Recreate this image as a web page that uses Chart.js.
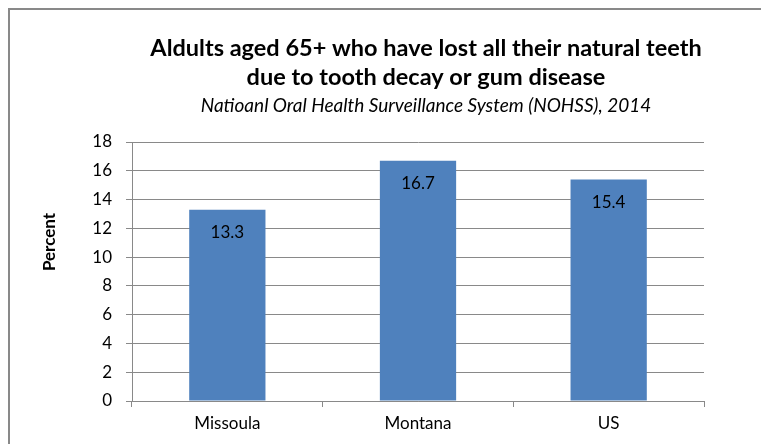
<!DOCTYPE html>
<html>
<head>
<meta charset="utf-8">
<script src="https://cdn.jsdelivr.net/npm/chart.js@4"></script>
<style>
  html, body { margin: 0; padding: 0; background: #fff; overflow: hidden; }
  #wrap { width: 761px; height: 444px; }
  canvas { display: block; }
</style>
</head>
<body>
<div id="wrap"><canvas id="teethChart" width="761" height="444"></canvas></div>
<script>
const lugares = ["Missoula", "Montana", "US"];
const percentData = [13.3, 16.7, 15.4];
const tituloLinhas = [
  "Aldults aged 65+ who have lost all their natural teeth",
  "due to tooth decay or gum disease"
];
const subtitulo = "Natioanl Oral Health Surveillance System (NOHSS), 2014";
const eixoY = "Percent";

const fonte = "Lato, 'Open Sans', sans-serif";
const cinza = "#898989";

// moldura (so topo e esquerda aparecem), titulos e rotulo do eixo Y
const extras = {
  id: "extras",
  beforeDraw(chart) {
    const c = chart.ctx;
    c.save();
    c.fillStyle = "#fff";
    c.fillRect(0, 0, chart.width, chart.height);
    c.strokeStyle = cinza;
    c.lineWidth = 2;
    c.beginPath();
    c.moveTo(9, chart.height);
    c.lineTo(9, 9);
    c.lineTo(chart.width, 9);
    c.stroke();
    c.restore();
  },
  afterDraw(chart) {
    const c = chart.ctx;
    c.save();
    c.fillStyle = "#000";
    c.textAlign = "center";
    c.textBaseline = "alphabetic";
    c.font = "bold 23.5px " + fonte;
    c.fillText(tituloLinhas[0], 426, 56);
    c.fillText(tituloLinhas[1], 426, 85);
    c.font = "italic 19px " + fonte;
    c.fillText(subtitulo, 426, 112);

    c.translate(50, 242);
    c.rotate(-Math.PI / 2);
    c.textBaseline = "middle";
    c.font = "bold 17px " + fonte;
    c.fillText(eixoY, 0, 0);
    c.restore();
  }
};

// valores dentro das barras
const rotulos = {
  id: "rotulos",
  afterDatasetsDraw(chart) {
    const c = chart.ctx;
    const meta = chart.getDatasetMeta(0);
    c.save();
    c.fillStyle = "#000";
    c.font = "17px " + fonte;
    c.textAlign = "center";
    c.textBaseline = "middle";
    meta.data.forEach((bar, i) => {
      c.fillText(percentData[i].toFixed(1), bar.x, bar.y + 23);
    });
    c.restore();
  }
};

const ctx = document.getElementById("teethChart").getContext("2d");
new Chart(ctx, {
  type: "bar",
  data: {
    labels: lugares,
    datasets: [{
      label: eixoY,
      data: percentData,
      backgroundColor: "#4F81BD",
      borderWidth: 0,
      categoryPercentage: 1,
      barPercentage: 0.4
    }]
  },
  options: {
    responsive: false,
    animation: false,
    layout: { padding: { top: 142, right: 57, left: 0, bottom: 0 } },
    plugins: {
      legend: { display: false },
      tooltip: { enabled: false }
    },
    scales: {
      x: {
        afterFit(scale) { scale.height = 43; },
        grid: {
          offset: true,
          drawOnChartArea: false,
          drawTicks: true,
          tickLength: 6,
          color: cinza
        },
        border: { color: cinza, width: 1 },
        ticks: {
          color: "#000",
          padding: 6,
          font: { family: fonte, size: 17 }
        }
      },
      y: {
        min: 0,
        max: 18,
        afterFit(scale) { scale.width = 132; },
        grid: {
          color: cinza,
          tickLength: 6
        },
        border: { color: cinza, width: 1 },
        ticks: {
          stepSize: 2,
          color: "#000",
          padding: 14,
          font: { family: fonte, size: 17 }
        }
      }
    }
  },
  plugins: [extras, rotulos]
});
</script>
</body>
</html>
